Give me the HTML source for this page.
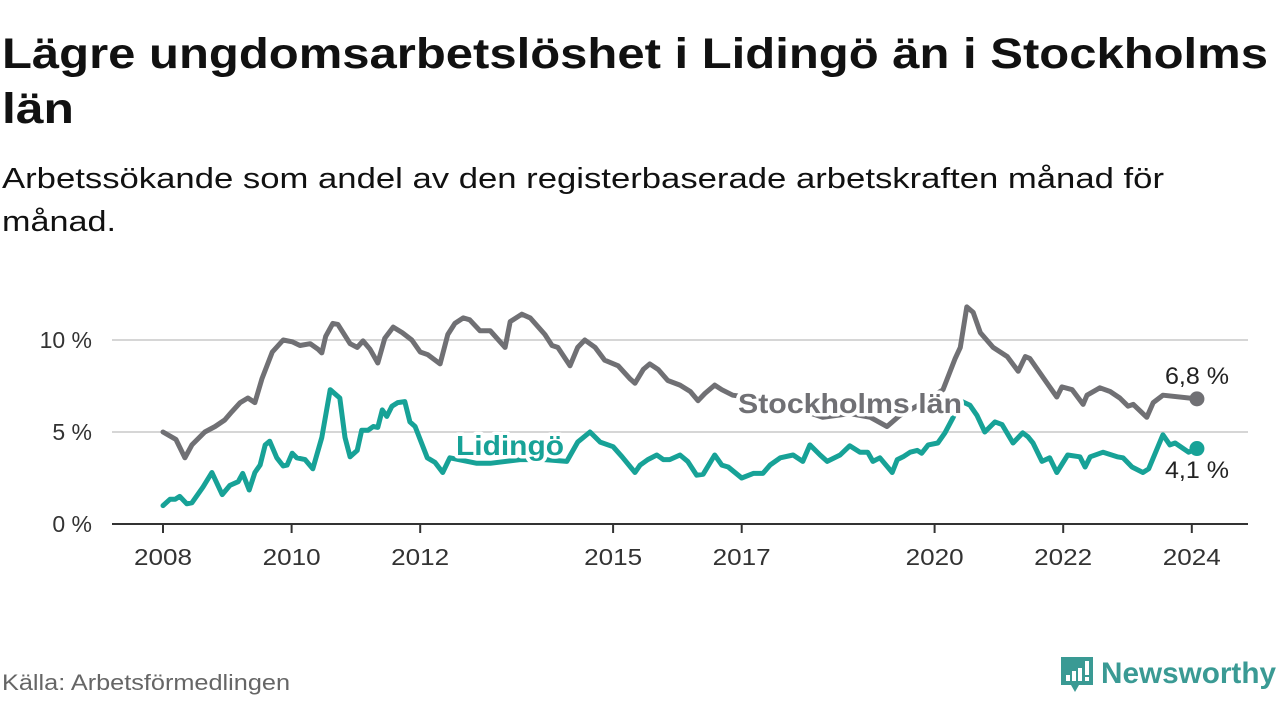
<!DOCTYPE html>
<html><head><meta charset="utf-8"><style>
html,body{margin:0;padding:0;background:#fff;}
svg{display:block;font-family:"Liberation Sans",sans-serif;}
</style></head><body>
<svg id="chart" width="1280" height="720" viewBox="0 0 1280 720" xmlns="http://www.w3.org/2000/svg">
<text x="2" y="68" font-size="43" font-weight="bold" fill="#111" textLength="1266" lengthAdjust="spacingAndGlyphs">Lägre ungdomsarbetslöshet i Lidingö än i Stockholms</text>
<text x="2" y="123" font-size="43" font-weight="bold" fill="#111" textLength="72" lengthAdjust="spacingAndGlyphs">län</text>
<text x="2" y="188" font-size="29" fill="#111" textLength="1162" lengthAdjust="spacingAndGlyphs">Arbetssökande som andel av den registerbaserade arbetskraften månad för</text>
<text x="2" y="231" font-size="29" fill="#111" textLength="114" lengthAdjust="spacingAndGlyphs">månad.</text>
<g id="grid"></g>
<g id="axes"></g>
<g id="series"></g>
<g id="labels"></g>
<text x="2" y="690" font-size="22" fill="#666" textLength="288" lengthAdjust="spacingAndGlyphs">Källa: Arbetsförmedlingen</text>
<g>
<path d="M1061 657 h32 v28 h-14 l-4 7 l-4 -7 h-10 z" fill="#3a9a94"/>
<rect x="1066" y="675" width="4" height="6" fill="#fff"/>
<rect x="1072" y="671" width="4" height="10" fill="#fff"/>
<rect x="1078" y="668" width="4" height="13" fill="#fff"/>
<rect x="1085" y="661" width="4" height="14" fill="#fff"/>
<rect x="1085" y="677" width="4" height="4" fill="#fff"/>
<text x="1101" y="683" font-size="30" font-weight="bold" fill="#3a9a94" textLength="175" lengthAdjust="spacingAndGlyphs">Newsworthy</text>
</g>
</svg>
<script>
const yTicks = [0, 5, 10];
const yTickLabels = ["0 %", "5 %", "10 %"];
const xTicks = [2008, 2010, 2012, 2015, 2017, 2020, 2022, 2024];
const xTickLabels = ["2008", "2010", "2012", "2015", "2017", "2020", "2022", "2024"];

const stockholmDates = [2008.00,2008.20,2008.34,2008.45,2008.65,2008.81,2008.96,2009.07,2009.20,2009.32,2009.43,2009.54,2009.70,2009.87,2010.01,2010.13,2010.29,2010.41,2010.47,2010.53,2010.64,2010.72,2010.91,2011.02,2011.11,2011.22,2011.34,2011.45,2011.58,2011.72,2011.87,2012.00,2012.12,2012.31,2012.43,2012.54,2012.67,2012.77,2012.93,2013.09,2013.32,2013.40,2013.58,2013.71,2013.94,2014.05,2014.14,2014.33,2014.45,2014.56,2014.72,2014.87,2015.08,2015.26,2015.34,2015.47,2015.57,2015.70,2015.85,2016.04,2016.20,2016.32,2016.43,2016.58,2016.69,2016.86,2017.28,2017.75,2018.26,2018.68,2019.00,2019.26,2019.46,2019.77,2020.13,2020.32,2020.40,2020.50,2020.60,2020.71,2020.91,2021.13,2021.30,2021.41,2021.48,2021.75,2021.90,2021.98,2022.14,2022.31,2022.37,2022.57,2022.73,2022.88,2023.01,2023.09,2023.30,2023.40,2023.55,2024.08];
const stockholmValues = [5.0,4.6,3.6,4.3,5.0,5.3,5.65,6.1,6.6,6.85,6.6,7.9,9.35,10.0,9.9,9.7,9.8,9.5,9.3,10.2,10.9,10.85,9.8,9.6,9.95,9.5,8.75,10.1,10.7,10.4,10.0,9.35,9.2,8.7,10.3,10.9,11.2,11.1,10.5,10.5,9.6,11.0,11.4,11.2,10.3,9.7,9.6,8.6,9.6,10.0,9.6,8.9,8.6,7.9,7.65,8.4,8.7,8.4,7.8,7.55,7.2,6.7,7.1,7.55,7.3,7.0,6.8,6.4,5.8,6.0,5.8,5.3,5.9,6.5,7.3,9.0,9.6,11.8,11.5,10.4,9.6,9.1,8.3,9.1,9.0,7.65,6.9,7.45,7.3,6.5,7.0,7.4,7.2,6.85,6.4,6.5,5.8,6.6,7.0,6.8];

const lidingoDates = [2008.00,2008.11,2008.19,2008.26,2008.37,2008.45,2008.62,2008.76,2008.92,2009.04,2009.17,2009.24,2009.34,2009.43,2009.51,2009.59,2009.66,2009.77,2009.87,2009.93,2010.01,2010.08,2010.21,2010.33,2010.47,2010.60,2010.75,2010.83,2010.91,2011.02,2011.09,2011.19,2011.27,2011.34,2011.41,2011.48,2011.56,2011.65,2011.76,2011.84,2011.92,2012.11,2012.23,2012.35,2012.46,2012.88,2013.09,2013.55,2013.94,2014.28,2014.45,2014.64,2014.80,2015.00,2015.14,2015.34,2015.42,2015.54,2015.68,2015.78,2015.88,2016.04,2016.16,2016.30,2016.40,2016.58,2016.69,2016.79,2017.00,2017.18,2017.33,2017.44,2017.60,2017.80,2017.95,2018.06,2018.22,2018.33,2018.53,2018.68,2018.84,2018.96,2019.04,2019.15,2019.34,2019.42,2019.51,2019.62,2019.73,2019.80,2019.90,2020.05,2020.16,2020.29,2020.40,2020.55,2020.66,2020.78,2020.94,2021.05,2021.22,2021.37,2021.45,2021.53,2021.67,2021.79,2021.90,2022.07,2022.26,2022.34,2022.42,2022.62,2022.84,2022.93,2023.07,2023.24,2023.33,2023.55,2023.66,2023.74,2023.95,2024.08];
const lidingoValues = [1.0,1.35,1.35,1.5,1.1,1.15,2.0,2.8,1.6,2.1,2.3,2.75,1.85,2.8,3.2,4.3,4.5,3.6,3.15,3.2,3.85,3.6,3.5,3.0,4.7,7.3,6.85,4.7,3.65,4.0,5.1,5.1,5.3,5.25,6.2,5.85,6.4,6.6,6.65,5.55,5.3,3.6,3.35,2.8,3.6,3.3,3.3,3.5,3.5,3.4,4.45,5.0,4.45,4.2,3.65,2.8,3.2,3.5,3.75,3.5,3.5,3.75,3.4,2.65,2.7,3.75,3.2,3.1,2.5,2.75,2.75,3.2,3.6,3.75,3.4,4.3,3.75,3.4,3.75,4.25,3.9,3.9,3.4,3.6,2.8,3.5,3.65,3.9,4.0,3.85,4.3,4.4,4.95,5.8,6.7,6.45,5.9,5.0,5.55,5.4,4.4,4.95,4.75,4.4,3.4,3.6,2.8,3.75,3.65,3.1,3.65,3.9,3.65,3.6,3.1,2.8,3.0,4.85,4.3,4.4,3.9,4.1];

const NS = "http://www.w3.org/2000/svg";
const X0 = 163, PXY = 64.3, Y0 = 524, PXV = 18.4;
function xScale(year){ return X0 + (year - 2008) * PXY; }
function yScale(v){ return Y0 - v * PXV; }
function mk(tag, attrs, parent){ const e = document.createElementNS(NS, tag); for (const k in attrs) e.setAttribute(k, attrs[k]); parent.appendChild(e); return e; }

const grid = document.getElementById('grid'), axes = document.getElementById('axes'), series = document.getElementById('series'), labels = document.getElementById('labels');

yTicks.forEach((t, i) => {
  if (t > 0) {
    const gl = mk('line', {x1:112, x2:1248, y1:yScale(t), y2:yScale(t), stroke:'#d6d6d6', 'stroke-width':2}, grid);
    
    
  }
  const tl = mk('text', {x:92, y:yScale(t)+8, 'text-anchor':'end', 'font-size':23, fill:'#333'}, axes);
  tl.textContent = yTickLabels[i];
  
  
});
const ax = mk('line', {x1:112, x2:1248, y1:Y0, y2:Y0, stroke:'#333', 'stroke-width':2}, axes);


xTicks.forEach((t, i) => {
  const tk = mk('line', {x1:xScale(t), x2:xScale(t), y1:Y0, y2:Y0+9, stroke:'#333', 'stroke-width':2}, axes);
  
  
  const tl = mk('text', {x:xScale(t), y:565, 'text-anchor':'middle', 'font-size':23, fill:'#333', textLength:58, lengthAdjust:'spacingAndGlyphs'}, axes);
  tl.textContent = xTickLabels[i];
  
  
});

function drawLine(dates, vals, color, name){
  const d = dates.map((t, i) => (i ? 'L' : 'M') + xScale(t).toFixed(1) + ' ' + yScale(vals[i]).toFixed(1)).join(' ');
  const p = mk('path', {d:d, fill:'none', stroke:color, 'stroke-width':5, 'stroke-linejoin':'round', 'stroke-linecap':'round'}, series);
  
  
  const n = dates.length - 1;
  const c = mk('circle', {cx:xScale(dates[n]), cy:yScale(vals[n]), r:7.5, fill:color}, series);
  
  
}
const GREY = '#707074', TEAL = '#17a297';
drawLine(stockholmDates, stockholmValues, GREY, 'stockholm');
drawLine(lidingoDates, lidingoValues, TEAL, 'lidingo');

function label(txt, x, y, color, size, weight, anchor, name, halo, len){
  const extra = len ? {textLength:len, lengthAdjust:'spacingAndGlyphs'} : {};
  if (halo) {
    const h = mk('text', Object.assign({x:x, y:y, 'font-size':size, 'font-weight':weight, fill:'#fff', stroke:'#fff', 'stroke-width':7, 'stroke-linejoin':'round', 'text-anchor':anchor}, extra), labels);
    h.textContent = txt;
    
    
  }
  const t = mk('text', Object.assign({x:x, y:y, 'font-size':size, 'font-weight':weight, fill:color, 'text-anchor':anchor}, extra), labels);
  t.textContent = txt;
  
  
}
const nS = stockholmValues.length - 1, nL = lidingoValues.length - 1;
label('Stockholms län', 738, 413, GREY, 28, 'bold', 'start', 'stockholm-series-label', true, 224);
label('Lidingö', 456, 455, TEAL, 28, 'bold', 'start', 'lidingo-series-label', true, 108);
label(stockholmValues[nS].toFixed(1).replace('.', ',') + ' %', 1197, 384, '#222', 24, 'normal', 'middle', 'stockholm-last-value', true, 64);
label(lidingoValues[nL].toFixed(1).replace('.', ',') + ' %', 1197, 478, '#222', 24, 'normal', 'middle', 'lidingo-last-value', true, 64);
</script>
</body></html>
